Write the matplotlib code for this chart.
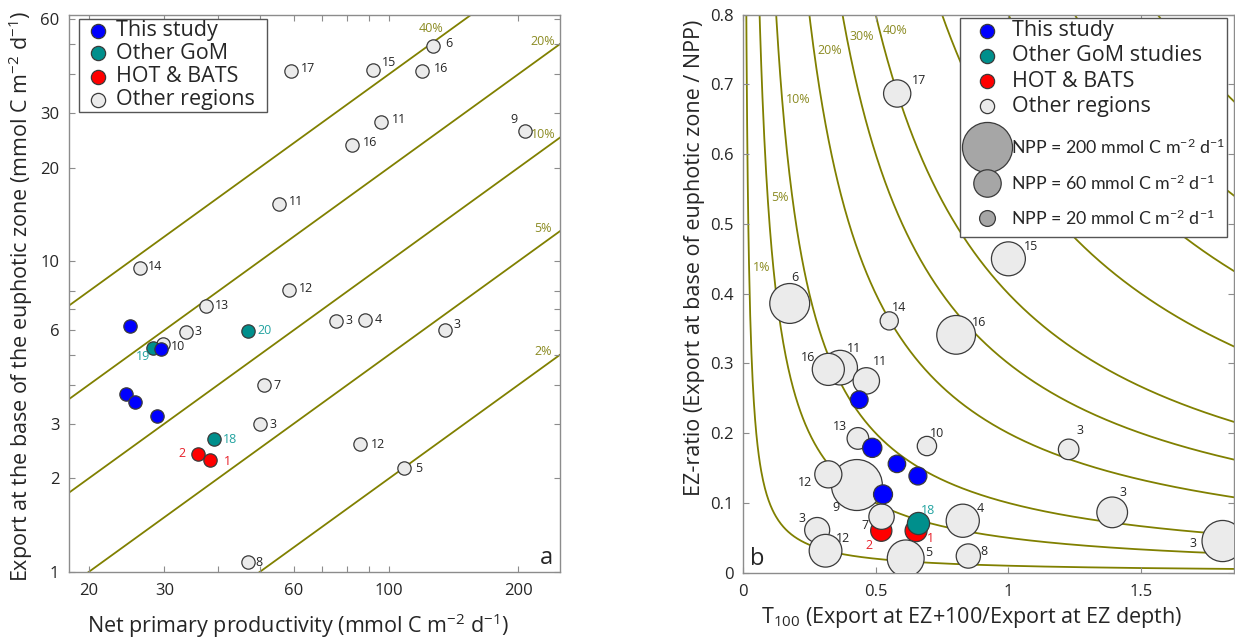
import numpy as np
import matplotlib
matplotlib.use('Agg')
import matplotlib.pyplot as plt
from matplotlib.patches import Rectangle
from matplotlib.ticker import FixedLocator, FixedFormatter, NullLocator

plt.rcParams['font.family'] = ['Open Sans', 'DejaVu Sans']
plt.rcParams['mathtext.default'] = 'regular'

# ---------------- Panel a data (NPP vs export at base of euphotic zone) ----------------
a_study_npp = [25.0, 29.4, 24.4, 25.7, 28.8]
a_study_exp = [6.18, 5.20, 3.75, 3.53, 3.18]

a_gom_npp = [28.3, 47.0, 39.2]
a_gom_exp = [5.24, 5.97, 2.67]
a_gom_lab = ['19', '20', '18']

a_hb_npp = [35.9, 38.4]
a_hb_exp = [2.40, 2.29]
a_hb_lab = ['2', '1']

a_oth_npp = [126.8, 91.9, 119.6, 59.3, 95.7, 207.0, 82.1, 55.6, 26.4, 58.6, 37.5,
             75.2, 87.7, 135.0, 33.7, 29.8, 51.3, 50.0, 85.4, 108.3, 46.9]
a_oth_exp = [49.2, 41.1, 40.8, 40.8, 28.0, 26.2, 23.7, 15.3, 9.52, 8.11, 7.18,
             6.43, 6.45, 6.0, 5.93, 5.40, 3.99, 2.99, 2.58, 2.16, 1.08]
a_oth_lab = ['6', '15', '16', '17', '11', '9', '16', '11', '14', '12', '13',
             '3', '4', '3', '3', '10', '7', '3', '12', '5', '8']

a_fractions = [0.40, 0.20, 0.10, 0.05, 0.02]
a_fraction_labels = ['40%', '20%', '10%', '5%', '2%']

a_xticks = [20, 30, 40, 50, 60, 70, 80, 90, 100, 200]
a_xticklabels = ['20', '30', '', '', '60', '', '', '', '100', '200']
a_yticks = [1, 2, 3, 4, 5, 6, 7, 8, 10, 20, 30, 40, 50, 60]
a_yticklabels = ['1', '2', '3', '', '', '6', '', '', '10', '20', '30', '', '', '60']

# ---------------- Panel b data (T100 vs EZ-ratio, size = NPP) ----------------
b_oth_t100 = [0.581, 1.000, 0.176, 0.551, 0.803, 0.429, 0.366, 0.3215, 0.4646, 0.433, 0.693,
              1.227, 0.3215, 1.391, 0.522, 0.828, 0.2795, 0.311, 0.613, 0.849, 1.807]
b_oth_ez = [0.687, 0.450, 0.386, 0.361, 0.341, 0.1257, 0.294, 0.2915, 0.275, 0.1925, 0.1816,
            0.1768, 0.141, 0.0865, 0.0803, 0.0745, 0.0612, 0.0315, 0.0205, 0.0239, 0.0454]
b_oth_npp = [59.3, 91.9, 126.8, 26.4, 119.6, 207.0, 95.7, 82.1, 55.6, 37.5, 29.8,
             33.7, 58.6, 75.2, 51.3, 87.7, 50.0, 85.4, 108.3, 46.9, 135.0]
b_oth_lab = ['17', '15', '6', '14', '16', '9', '11', '16', '11', '13', '10',
             '3', '12', '3', '7', '4', '3', '12', '5', '8', '3']

b_study_t100 = [0.438, 0.487, 0.580, 0.659, 0.5276]
b_study_ez = [0.248, 0.179, 0.156, 0.1386, 0.1123]
b_study_npp = [25.0, 29.4, 24.4, 25.7, 28.8]

b_gom_t100 = [0.661]
b_gom_ez = [0.0717]
b_gom_npp = [39.2]
b_gom_lab = ['18']

b_hb_t100 = [0.521, 0.652]
b_hb_ez = [0.0602, 0.0602]
b_hb_npp = [35.9, 38.4]
b_hb_lab = ['2', '1']

b_levels = [0.01, 0.05, 0.10, 0.20, 0.30, 0.40, 0.60, 0.80, 1.00, 1.25]
b_level_labels = ['1%', '5%', '10%', '20%', '30%', '40%']
b_level_label_y = [0.438, 0.538, 0.678, 0.748, 0.769, 0.778]

b_legend_npp = [200, 60, 20]

# ---------------- label offsets (pixels: right, down) ----------------
a_oth_off = [(15.6, -3), (15.6, -8), (19, -3), (17, -3), (18, -3), (-11, -12), (18, -2), (17, -2),
             (15, -1), (17, -1), (15.6, 0), (13.4, 0), (14, -1), (12, -6), (11.6, 0), (15, 2),
             (13, 0), (13.4, 0), (18, 0), (15, 0), (11.6, 1)]
a_gom_off = [(-10.5, 8), (16.7, 0), (16, 0)]
a_hb_off = [(-16, 0), (17, 1)]

b_oth_off = [(22, -13), (23, -12), (5, -26), (10, -13), (23, -12), (-21, 22), (14, -19), (-20, -12),
             (14, -19), (-18, -12), (10, -13), (11, -19), (-23, 8), (11, -20), (-17, 9), (18, -12),
             (-15, -12), (17, -12), (23, -6), (16, -5), (-30, 2)]
b_gom_off = [(10, -12)]
b_hb_off = [(-12, 15), (14, 8)]

# ---------------- styles ----------------
C_BLUE = '#0000ff'
C_TEAL = '#008f8c'
C_RED = '#ff0000'
C_GRAY = '#ebebeb'
C_EDGE = '#3a3a3a'
C_LINE = '#808000'
C_PCT = '#8b8b22'
C_SPINE = '#8c8c8c'
C_TXT = '#262626'
C_TEAL_TXT = '#22a3a0'
C_RED_TXT = '#e8202a'
PX2PT = 0.72

fig = plt.figure(figsize=(12.35, 6.39), dpi=100)
axa = fig.add_axes([69 / 1235, (639 - 572) / 639, 491 / 1235, 557 / 639])
axb = fig.add_axes([743 / 1235, (639 - 572.7) / 639, 491 / 1235, 558 / 639])


def style_axes(ax):
    for sp in ax.spines.values():
        sp.set_color(C_SPINE)
        sp.set_linewidth(1.0)
    ax.tick_params(which='both', direction='in', length=4.5, width=0.8, color=C_SPINE,
                   top=True, right=True, labelsize=12, labelcolor=C_TXT)
    ax.tick_params(axis='x', pad=8)
    ax.tick_params(axis='y', pad=7)


def annotate(ax, xs, ys, labs, offs, color, size=9):
    for x, y, t, (dx, dy) in zip(xs, ys, labs, offs):
        ax.annotate(t, (x, y), xytext=(dx * PX2PT, -dy * PX2PT), textcoords='offset points',
                    ha='center', va='center', fontsize=size, color=color, zorder=6)


# ======================= Panel a =======================
axa.set_xscale('log')
axa.set_yscale('log')
axa.set_xlim(18, 250)
axa.set_ylim(1, 62)

xline = np.array([18, 250])
for f, lab in zip(a_fractions, a_fraction_labels):
    axa.plot(xline, f * xline, color=C_LINE, lw=1.3, zorder=1)
    lx = min(228.0, 50.0 / f)
    axa.text(lx, f * lx * 1.12, lab, color=C_PCT, fontsize=9, ha='center', va='center', zorder=2)

MS_A = 92
axa.scatter(a_oth_npp, a_oth_exp, s=MS_A, c=C_GRAY, edgecolors=C_EDGE, linewidths=0.9, zorder=3)
axa.scatter(a_gom_npp, a_gom_exp, s=MS_A, c=C_TEAL, edgecolors=C_EDGE, linewidths=0.9, zorder=4)
axa.scatter(a_hb_npp, a_hb_exp, s=MS_A, c=C_RED, edgecolors=C_EDGE, linewidths=0.9, zorder=4)
axa.scatter(a_study_npp, a_study_exp, s=MS_A, c=C_BLUE, edgecolors=C_EDGE, linewidths=0.9, zorder=5)

annotate(axa, a_oth_npp, a_oth_exp, a_oth_lab, a_oth_off, C_TXT)
annotate(axa, a_gom_npp, a_gom_exp, a_gom_lab, a_gom_off, C_TEAL_TXT)
annotate(axa, a_hb_npp, a_hb_exp, a_hb_lab, a_hb_off, C_RED_TXT)

axa.xaxis.set_major_locator(FixedLocator(a_xticks))
axa.xaxis.set_major_formatter(FixedFormatter(a_xticklabels))
axa.xaxis.set_minor_locator(NullLocator())
axa.yaxis.set_major_locator(FixedLocator(a_yticks))
axa.yaxis.set_major_formatter(FixedFormatter(a_yticklabels))
axa.yaxis.set_minor_locator(NullLocator())
style_axes(axa)

axa.set_xlabel('Net primary productivity (mmol C m$^{-2}$ d$^{-1}$)', fontsize=15.5, color=C_TXT)
axa.xaxis.label.set_verticalalignment('baseline')
axa.xaxis.set_label_coords(0.467, -0.1095)
axa.set_ylabel('Export at the base of the euphotic zone (mmol C m$^{-2}$ d$^{-1}$)', fontsize=15.5, color=C_TXT)
axa.yaxis.set_label_coords(-0.069, 0.4955)

axa.text(0.9715, 0.0144, 'a', transform=axa.transAxes, fontsize=17, ha='center', va='baseline', color=C_TXT)

# legend a (drawn by hand)
axa.add_patch(Rectangle((0.0204, 0.8259), 0.4033 - 0.0204, 0.9928 - 0.8259, transform=axa.transAxes,
                        facecolor='white', edgecolor='#555555', lw=1.0, zorder=7))
leg_a_rows = [0.9718, 0.9312, 0.8892, 0.8474]
leg_a = [('This study', C_BLUE), ('Other GoM', C_TEAL), ('HOT & BATS', C_RED), ('Other regions', C_GRAY)]
for yy, (lab, col) in zip(leg_a_rows, leg_a):
    axa.scatter([0.0591], [yy], s=105, c=col, edgecolors=C_EDGE, linewidths=0.9,
                transform=axa.transAxes, zorder=8, clip_on=False)
    axa.text(0.0957, yy, lab, transform=axa.transAxes, fontsize=15.5, va='center', ha='left',
             color=C_TXT, zorder=8)

# ======================= Panel b =======================
axb.set_xlim(0, 1.85)
axb.set_ylim(0, 0.8)


def size_b(npp):
    return 6.5 * np.asarray(npp, dtype=float)


xc = np.linspace(0.004, 1.85, 800)
for c in b_levels:
    axb.plot(xc, c / xc, color=C_LINE, lw=1.3, zorder=1)
for c, lab, ly in zip(b_levels, b_level_labels, b_level_label_y):
    axb.text(c / ly + 0.013, ly, lab, color=C_PCT, fontsize=9, ha='left', va='center', zorder=2)

axb.scatter(b_hb_t100, b_hb_ez, s=size_b(b_hb_npp), c=C_RED, edgecolors=C_EDGE, linewidths=0.9, zorder=2.5)
axb.scatter(b_oth_t100, b_oth_ez, s=size_b(b_oth_npp), c=C_GRAY, edgecolors=C_EDGE, linewidths=0.9, zorder=3)
axb.scatter(b_gom_t100, b_gom_ez, s=size_b(b_gom_npp), c=C_TEAL, edgecolors=C_EDGE, linewidths=0.9, zorder=4)
axb.scatter(b_study_t100, b_study_ez, s=size_b(b_study_npp), c=C_BLUE, edgecolors=C_EDGE, linewidths=0.9, zorder=5)

annotate(axb, b_oth_t100, b_oth_ez, b_oth_lab, b_oth_off, C_TXT)
annotate(axb, b_gom_t100, b_gom_ez, b_gom_lab, b_gom_off, C_TEAL_TXT)
annotate(axb, b_hb_t100, b_hb_ez, b_hb_lab, b_hb_off, C_RED_TXT)

axb.xaxis.set_major_locator(FixedLocator([0, 0.5, 1.0, 1.5]))
axb.xaxis.set_major_formatter(FixedFormatter(['0', '0.5', '1', '1.5']))
axb.yaxis.set_major_locator(FixedLocator([0, 0.1, 0.2, 0.3, 0.4, 0.5, 0.6, 0.7, 0.8]))
axb.yaxis.set_major_formatter(FixedFormatter(['0', '0.1', '0.2', '0.3', '0.4', '0.5', '0.6', '0.7', '0.8']))
style_axes(axb)

axb.set_xlabel('T$_{100}$ (Export at EZ+100/Export at EZ depth)', fontsize=15.5, color=C_TXT)
axb.xaxis.label.set_verticalalignment('baseline')
axb.xaxis.set_label_coords(0.466, -0.090)
axb.set_ylabel('EZ-ratio (Export at base of euphotic zone / NPP)', fontsize=15.5, color=C_TXT)
axb.yaxis.set_label_coords(-0.0774, 0.564)

axb.text(0.0295, 0.0138, 'b', transform=axb.transAxes, fontsize=17, ha='center', va='baseline', color=C_TXT)

# legend b (drawn by hand)
axb.add_patch(Rectangle((0.442, 0.6016), 0.986 - 0.442, 0.9937 - 0.6016, transform=axb.transAxes,
                        facecolor='white', edgecolor='#555555', lw=1.0, zorder=7))
leg_b_rows = [0.971, 0.926, 0.881, 0.8355]
leg_b = [('This study', C_BLUE), ('Other GoM studies', C_TEAL), ('HOT & BATS', C_RED), ('Other regions', C_GRAY)]
for yy, (lab, col) in zip(leg_b_rows, leg_b):
    axb.scatter([0.496], [yy], s=105, c=col, edgecolors=C_EDGE, linewidths=0.9,
                transform=axb.transAxes, zorder=8, clip_on=False)
    axb.text(0.548, yy, lab, transform=axb.transAxes, fontsize=15.5, va='center', ha='left',
             color=C_TXT, zorder=8)
leg_b_size_rows = [0.763, 0.698, 0.636]
for yy, npp in zip(leg_b_size_rows, b_legend_npp):
    axb.scatter([0.496], [yy], s=size_b([npp]), c='#a6a6a6', edgecolors=C_EDGE, linewidths=0.9,
                transform=axb.transAxes, zorder=8, clip_on=False)
    axb.text(0.546, yy, 'NPP = %d mmol C m$^{-2}$ d$^{-1}$' % npp, transform=axb.transAxes,
             fontsize=12.8, va='center', ha='left', color=C_TXT, zorder=8,
             family=['Lato', 'DejaVu Sans'])

fig.savefig('out.png', dpi=100)
